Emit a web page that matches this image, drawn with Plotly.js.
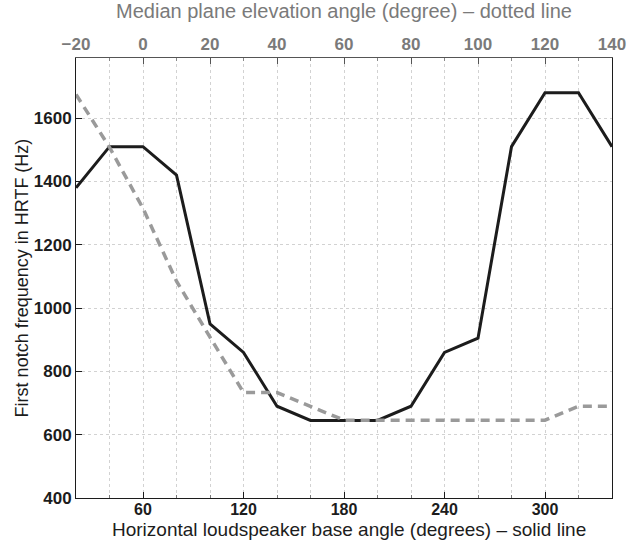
<!DOCTYPE html>
<html>
<head>
<meta charset="utf-8">
<script src="https://cdn.plot.ly/plotly-3.0.1.min.js"></script>
<style>html,body{margin:0;padding:0;background:#fff;}#chart{width:629px;height:541px;}</style>
</head>
<body>
<div id="chart"></div>
<script>
// Horizontal loudspeaker base angle (degrees) - solid line
const horizAngles = [20, 40, 60, 80, 100, 120, 140, 160, 180, 200, 220, 240, 260, 280, 300, 320, 340];
const horizNotchHz = [1380, 1510, 1510, 1420, 950, 860, 690, 645, 645, 645, 690, 860, 905, 1510, 1680, 1680, 1510];

// Median plane elevation angle (degree) - dotted line
const elevAngles = [-20, -10, 0, 10, 20, 30, 40, 50, 60, 70, 80, 90, 100, 110, 120, 130, 140];
const elevNotchHz = [1675, 1508, 1315, 1085, 908, 733, 733, 690, 646, 646, 646, 646, 646, 646, 646, 690, 690];

const bottomTicks = [60, 120, 180, 240, 300];
const topTicks = [-20, 0, 20, 40, 60, 80, 100, 120, 140];
const yTicks = [400, 600, 800, 1000, 1200, 1400, 1600];

const FONT = 'Liberation Sans, Arial, Helvetica, sans-serif';

const traces = [
  {
    x: horizAngles, y: horizNotchHz, xaxis: 'x', yaxis: 'y',
    type: 'scatter', mode: 'lines',
    line: {color: '#1c1c1c', width: 3},
    hoverinfo: 'skip', showlegend: false
  },
  {
    x: elevAngles, y: elevNotchHz, xaxis: 'x2', yaxis: 'y',
    type: 'scatter', mode: 'lines',
    line: {color: '#9a9a9a', width: 3.5, dash: '9px,6px'},
    hoverinfo: 'skip', showlegend: false
  }
];

const layout = {
  width: 629, height: 541,
  margin: {l: 76, r: 17, t: 58, b: 43, pad: 0},
  paper_bgcolor: '#ffffff', plot_bgcolor: '#ffffff',
  font: {family: FONT, color: '#1c1c1c'},
  xaxis: {
    range: [20, 340], tickvals: bottomTicks, ticktext: bottomTicks.map(String),
    ticks: 'inside', ticklen: 6, tickcolor: '#1c1c1c', tickwidth: 1,
    showline: true, linecolor: '#1c1c1c', linewidth: 1, mirror: false,
    showgrid: true, gridcolor: '#d2d2d2', griddash: 'dot', gridwidth: 1,
    zeroline: false, automargin: false, ticklabelstandoff: -3,
    minor: {dtick: 20, tick0: 0, ticks: 'inside', ticklen: 3, tickcolor: '#777',
            showgrid: true, gridcolor: '#d2d2d2', griddash: 'dot', gridwidth: 1},
    tickfont: {family: FONT, size: 16, color: '#1c1c1c', weight: 'bold'}
  },
  xaxis2: {
    overlaying: 'x', side: 'top', anchor: 'y',
    range: [-20, 140], tickvals: topTicks,
    ticktext: topTicks.map(v => v < 0 ? '\u2212' + Math.abs(v) : String(v)),
    ticks: 'inside', ticklen: 6, tickcolor: '#555', tickwidth: 1,
    showline: true, linecolor: '#555', linewidth: 1,
    showgrid: false, zeroline: false, automargin: false,
    minor: {dtick: 10, tick0: 0, ticks: 'inside', ticklen: 3, tickcolor: '#888', showgrid: false},
    tickfont: {family: FONT, size: 17, color: '#7a7a7a', weight: 'bold'},
    title: {text: 'Median plane elevation angle (degree) \u2013 dotted line',
            font: {family: FONT, size: 20, color: '#7a7a7a'}}
  },
  yaxis: {
    range: [400, 1790], tickvals: yTicks, ticktext: yTicks.map(String),
    ticks: 'inside', ticklen: 6, tickcolor: '#1c1c1c',
    showline: true, linecolor: '#1c1c1c', linewidth: 1, mirror: true,
    showgrid: true, gridcolor: '#d2d2d2', griddash: 'dot', gridwidth: 1,
    zeroline: false, automargin: false,
    tickfont: {family: FONT, size: 17, color: '#1c1c1c', weight: 'bold'},
    title: {text: 'First notch frequency in HRTF (Hz)',
            font: {family: FONT, size: 18, color: '#1c1c1c'}}
  },
  annotations: [{
    text: 'Horizontal loudspeaker base angle (degrees) \u2013 solid line',
    xref: 'paper', yref: 'paper', x: 0.51, y: -0.0977,
    xanchor: 'center', yanchor: 'bottom', showarrow: false, borderpad: 0,
    font: {family: FONT, size: 19, color: '#1c1c1c'}
  }]
};

Plotly.newPlot('chart', traces, layout, {staticPlot: true, displayModeBar: false});
</script>
</body>
</html>
